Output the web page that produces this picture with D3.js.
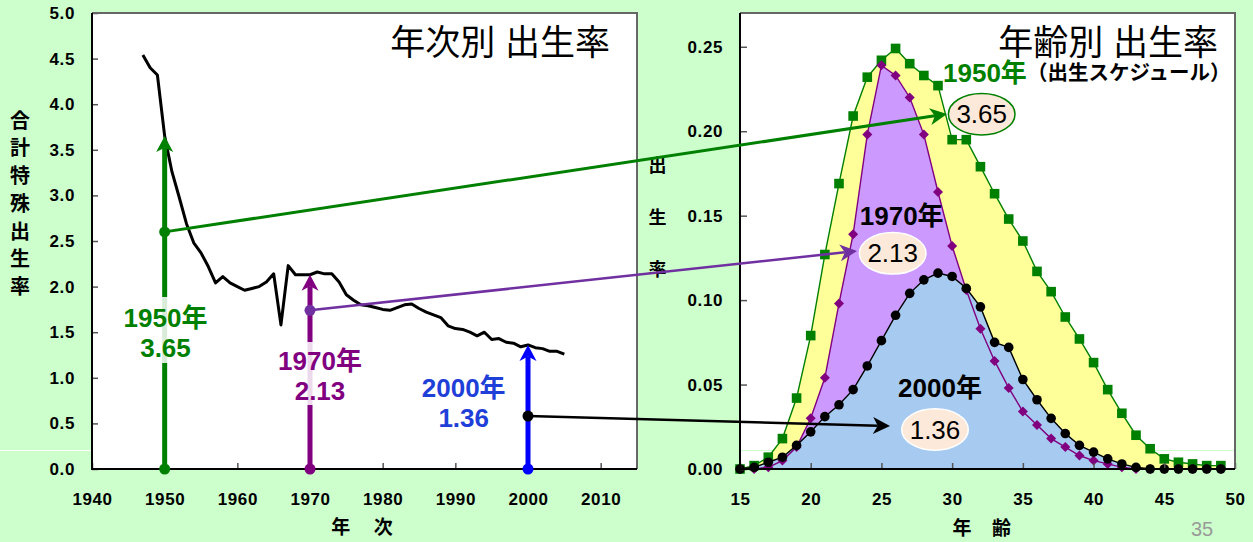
<!DOCTYPE html>
<html>
<head>
<meta charset="utf-8">
<script src="https://cdn.jsdelivr.net/npm/d3@7"></script>
<style>
  html, body { margin: 0; padding: 0; background: #ccffcc; }
  svg { display: block; }
</style>
</head>
<body>
<svg id="chart" width="1253" height="542"></svg>
<script>
// ---- Total fertility rate by year (Japan) ----
const years = [1947,1948,1949,1950,1951,1952,1953,1954,1955,1956,1957,1958,1959,
  1960,1961,1962,1963,1964,1965,1966,1967,1968,1969,1970,1971,1972,1973,1974,1975,
  1976,1977,1978,1979,1980,1981,1982,1983,1984,1985,1986,1987,1988,1989,1990,1991,
  1992,1993,1994,1995,1996,1997,1998,1999,2000,2001,2002,2003,2004,2005];
const tfr = [4.54,4.40,4.32,3.65,3.26,2.98,2.69,2.48,2.37,2.22,2.04,2.11,2.04,
  2.00,1.96,1.98,2.00,2.05,2.14,1.58,2.23,2.13,2.13,2.13,2.16,2.14,2.14,2.05,1.91,
  1.85,1.80,1.79,1.77,1.75,1.74,1.77,1.80,1.81,1.76,1.72,1.69,1.66,1.57,1.54,1.53,
  1.50,1.46,1.50,1.42,1.43,1.39,1.38,1.34,1.36,1.33,1.32,1.29,1.29,1.26];
const yearTicks = [1940,1950,1960,1970,1980,1990,2000,2010];
const tfrTicks = [0,0.5,1,1.5,2,2.5,3,3.5,4,4.5,5];

// highlighted years, their TFR and where each connector leaves the arrow
const highlightYears = [1950, 1970, 2000];
const highlightTfr = [3.65, 2.13, 1.36];
const connectorFrom = [2.6, 1.74, 0.58];

// ---- Age-specific fertility rates (schedules) ----
const ages = [15,16,17,18,19,20,21,22,23,24,25,26,27,28,29,30,31,32,33,34,35,36,37,38,39,40,41,42,43,44,45,46,47,48,49];
const rate1950 = [0.000,0.002,0.007,0.018,0.042,0.079,0.127,0.169,0.209,0.232,
  0.242,0.249,0.240,0.233,0.227,0.195,0.195,0.179,0.163,0.148,
  0.135,0.117,0.105,0.090,0.077,0.063,0.047,0.033,0.020,0.012,
  0.006,0.004,0.003,0.002,0.002];
const rate1970 = [0.000,0.000,0.001,0.005,0.013,0.030,0.054,0.098,0.139,0.198,
  0.239,0.233,0.220,0.198,0.164,0.132,0.106,0.083,0.064,0.048,
  0.034,0.026,0.018,0.013,0.008,0.005,0.003,0.001,0.000,0.000,
  0.000,0.000,0.000,0.000,0.000];
const rate2000 = [0.000,0.001,0.004,0.007,0.014,0.022,0.031,0.038,0.047,0.061,
  0.076,0.091,0.104,0.112,0.116,0.114,0.107,0.096,0.075,0.072,
  0.053,0.041,0.030,0.021,0.014,0.010,0.006,0.003,0.001,0.000,
  0.000,0.000,0.000,0.000,0.000];
const ageTicks = [15,20,25,30,35,40,45,50];
const rateTicks = [0,0.05,0.10,0.15,0.20,0.25];

// ---- styling ----
const LAT = "'Liberation Sans', Arial, 'Noto Sans CJK JP', sans-serif";
const JP = "'Noto Sans CJK JP', 'Liberation Sans', sans-serif";
const GREEN = "#008000", PURPLE = "#800080", LPURPLE = "#7030a0", BLUE = "#0000ff";
const LABEL_BLUE = "#1f40d8";
const PEACH = "#fde9d9";

const svg = d3.select("#chart");
svg.append("rect").attr("width", 1253).attr("height", 542).attr("fill", "#ccffcc");
svg.append("line").attr("x1", 0).attr("x2", 92).attr("y1", 450.5).attr("y2", 450.5)
  .attr("stroke", "#ffffff").attr("stroke-width", 1);

function styleAxis(g) {
  g.select(".domain").remove();
  g.attr("font-family", LAT).attr("font-size", 17).attr("font-weight", "bold");
  g.selectAll(".tick line").attr("stroke", "#555").attr("stroke-width", 1.5);
  g.selectAll(".tick text").attr("fill", "#000").attr("letter-spacing", "0.6px");
}

function frame(g, b) {
  g.append("path").attr("d", `M${b.x0},${b.y0}H${b.x1}V${b.y1}`)
    .attr("fill", "none").attr("stroke", "#666").attr("stroke-width", 2);
  g.append("path").attr("d", `M${b.x0},${b.y0}V${b.y1}H${b.x1}`)
    .attr("fill", "none").attr("stroke", "#000").attr("stroke-width", 2);
}

// arrow with a notched (stealth) head ending at (x2, y2)
function arrow(g, x1, y1, x2, y2, color, width, len, half) {
  const a = Math.atan2(y2 - y1, x2 - x1);
  const ux = Math.cos(a), uy = Math.sin(a);
  const nx = -uy, ny = ux;
  const bx = x2 - ux * len, by = y2 - uy * len;
  const kx = x2 - ux * len * 0.72, ky = y2 - uy * len * 0.72;
  g.append("line").attr("x1", x1).attr("y1", y1).attr("x2", kx).attr("y2", ky)
    .attr("stroke", color).attr("stroke-width", width);
  g.append("path")
    .attr("d", `M${x2},${y2}L${bx + nx * half},${by + ny * half}L${kx},${ky}L${bx - nx * half},${by - ny * half}Z`)
    .attr("fill", color);
}

// ================= Left panel: TFR by year =================
const L = { x0: 92, x1: 637, y0: 13, y1: 469 };
const xL = d3.scaleLinear().domain([1940, 2015]).range([L.x0, L.x1]);
const yL = d3.scaleLinear().domain([0, 5]).range([L.y1, L.y0]);
const gL = svg.append("g");
gL.append("rect").attr("x", L.x0).attr("y", L.y0)
  .attr("width", L.x1 - L.x0).attr("height", L.y1 - L.y0).attr("fill", "#fff");

gL.append("g").attr("transform", `translate(0,${L.y1})`)
  .call(d3.axisBottom(xL).tickValues(yearTicks).tickFormat(d3.format("d")).tickSize(-6).tickPadding(24))
  .call(styleAxis);
gL.append("g").attr("transform", `translate(${L.x0},0)`)
  .call(d3.axisLeft(yL).tickValues(tfrTicks).tickFormat(d3.format(".1f")).tickSize(-6).tickPadding(17))
  .call(styleAxis);

const tfrSeries = years.map((y, i) => ({ year: y, v: tfr[i] }));
gL.append("path").datum(tfrSeries)
  .attr("d", d3.line().x(d => xL(d.year)).y(d => yL(d.v)))
  .attr("fill", "none").attr("stroke", "#000").attr("stroke-width", 3)
  .attr("stroke-linejoin", "round");

frame(gL, L);

// title
svg.append("text").attr("x", 610).attr("y", 55).attr("text-anchor", "end")
  .attr("font-family", LAT).attr("font-size", 35).attr("fill", "#000")
  .text("年次別 出生率");

// axis titles
"合計特殊出生率".split("").forEach((c, i) => {
  svg.append("text").attr("x", 20).attr("y", 119 + i * 27.75)
    .attr("text-anchor", "middle").attr("dominant-baseline", "central")
    .attr("font-family", JP).attr("font-weight", "bold").attr("font-size", 20)
    .text(c);
});
[["年", 340.7], ["次", 383.3]].forEach(([c, x]) => {
  svg.append("text").attr("x", x).attr("y", 534).attr("text-anchor", "middle")
    .attr("font-family", JP).attr("font-weight", "bold").attr("font-size", 19).text(c);
});

// ================= Right panel: age-specific rates =================
const R = { x0: 740, x1: 1235, y0: 13, y1: 469 };
const xR = d3.scaleLinear().domain([15, 50]).range([R.x0, R.x1]);
const yR = d3.scaleLinear().domain([0, 0.27]).range([R.y1, R.y0]);
const gR = svg.append("g");
gR.append("rect").attr("x", R.x0).attr("y", R.y0)
  .attr("width", R.x1 - R.x0).attr("height", R.y1 - R.y0).attr("fill", "#fff");
gR.append("line").attr("x1", R.x0).attr("x2", R.x1).attr("y1", 450.5).attr("y2", 450.5)
  .attr("stroke", "#ccffcc").attr("stroke-width", 1.2);

const schedules = [
  { key: "1950", values: rate1950, fill: "#ffff99", stroke: GREEN, marker: "square" },
  { key: "1970", values: rate1970, fill: "#cc99ff", stroke: PURPLE, marker: "diamond" },
  { key: "2000", values: rate2000, fill: "#a6caf0", stroke: "#000", marker: "circle" }
];
const pts = s => ages.map((a, i) => ({ age: a, r: s.values[i] }));

const area = d3.area().x(d => xR(d.age)).y0(yR(0)).y1(d => yR(d.r));
const line = d3.line().x(d => xR(d.age)).y(d => yR(d.r));

schedules.forEach(s => {
  gR.append("path").datum(pts(s)).attr("d", area).attr("fill", s.fill);
});
schedules.forEach(s => {
  gR.append("path").datum(pts(s)).attr("d", line)
    .attr("fill", "none").attr("stroke", s.stroke).attr("stroke-width", 1.4);
  const m = gR.append("g").attr("fill", s.stroke);
  pts(s).forEach(d => {
    const cx = xR(d.age), cy = yR(d.r);
    if (s.marker === "square") {
      m.append("rect").attr("x", cx - 4.8).attr("y", cy - 4.8).attr("width", 9.6).attr("height", 9.6);
    } else if (s.marker === "diamond") {
      m.append("path").attr("d", `M${cx},${cy - 5}L${cx + 5},${cy}L${cx},${cy + 5}L${cx - 5},${cy}Z`);
    } else {
      m.append("circle").attr("cx", cx).attr("cy", cy).attr("r", 4.8);
    }
  });
});

gR.append("g").attr("transform", `translate(0,${R.y1})`)
  .call(d3.axisBottom(xR).tickValues(ageTicks).tickFormat(d3.format("d")).tickSize(-6).tickPadding(24))
  .call(styleAxis);
gR.append("g").attr("transform", `translate(${R.x0},0)`)
  .call(d3.axisLeft(yR).tickValues(rateTicks).tickFormat(d3.format(".2f")).tickSize(-7).tickPadding(17))
  .call(styleAxis);

frame(gR, R);

// title and subtitle
svg.append("text").attr("x", 1218).attr("y", 55).attr("text-anchor", "end")
  .attr("font-family", LAT).attr("font-size", 35).attr("fill", "#000")
  .text("年齢別 出生率");
svg.append("text").attr("x", 943).attr("y", 82)
  .attr("font-family", LAT).attr("font-weight", "bold").attr("font-size", 26).attr("fill", GREEN)
  .text("1950年");
svg.append("text").attr("x", 1027).attr("y", 80)
  .attr("font-family", LAT).attr("font-weight", "bold").attr("font-size", 20.5).attr("fill", "#000")
  .text("（出生スケジュール）");

// axis titles
[["出", 164], ["生", 216], ["率", 268]].forEach(([c, y]) => {
  svg.append("text").attr("x", 657.5).attr("y", y)
    .attr("text-anchor", "middle").attr("dominant-baseline", "central")
    .attr("font-family", JP).attr("font-weight", "bold").attr("font-size", 18).text(c);
});
[["年", 962], ["齢", 1001.5]].forEach(([c, x]) => {
  svg.append("text").attr("x", x).attr("y", 535).attr("text-anchor", "middle")
    .attr("font-family", JP).attr("font-weight", "bold").attr("font-size", 19).text(c);
});

// in-panel year labels
svg.append("text").attr("x", 901.7).attr("y", 225).attr("text-anchor", "middle")
  .attr("font-family", LAT).attr("font-weight", "bold").attr("font-size", 26).attr("fill", "#000")
  .text("1970年");
svg.append("text").attr("x", 940).attr("y", 397).attr("text-anchor", "middle")
  .attr("font-family", LAT).attr("font-weight", "bold").attr("font-size", 26).attr("fill", "#000")
  .text("2000年");

// ================= Highlights and connectors =================
const hl = [
  { color: GREEN, link: GREEN, linkW: 3, labelColor: GREEN, labelX: 165.5, labelY: 327,
    box: [297, 363], tip: [947, 114], ell: [981.7, 114.2], ellStroke: GREEN },
  { color: PURPLE, link: LPURPLE, linkW: 2.5, labelColor: PURPLE, labelX: 320, labelY: 370,
    box: [342, 405], tip: [857, 251], ell: [892.7, 253.3], ellStroke: "#ffffff" },
  { color: BLUE, link: "#000", linkW: 2.5, labelColor: LABEL_BLUE, labelX: 463.7, labelY: 397,
    box: null, tip: [890, 426], ell: [935, 429.5], ellStroke: "#ffffff" }
];

const gA = svg.append("g");
highlightYears.forEach((yr, i) => {
  const h = hl[i];
  const x = xL(yr);
  // vertical arrow up to the year's TFR
  arrow(gA, x, yL(0), x, yL(highlightTfr[i]), h.color, 5, 16, 8.5);
  gA.append("circle").attr("cx", x).attr("cy", yL(0)).attr("r", 5.5).attr("fill", h.color);

  // translucent label box over the arrow
  if (h.box) {
    gA.append("rect").attr("x", x - 12).attr("y", h.box[0]).attr("width", 24)
      .attr("height", h.box[1] - h.box[0]).attr("fill", "#fff").attr("opacity", 0.85);
  }
  const t = gA.append("text").attr("text-anchor", "middle")
    .attr("font-family", LAT).attr("font-weight", "bold").attr("font-size", 26)
    .attr("fill", h.labelColor);
  t.append("tspan").attr("x", h.labelX).attr("y", h.labelY).text(`${yr}年`);
  t.append("tspan").attr("x", h.labelX).attr("y", h.labelY + 30).text(d3.format(".2f")(highlightTfr[i]));
});

highlightYears.forEach((yr, i) => {
  const h = hl[i];
  const x = xL(yr), y = yL(connectorFrom[i]);
  arrow(gA, x, y, h.tip[0], h.tip[1], h.link, h.linkW, 17, 8.5);
  gA.append("circle").attr("cx", x).attr("cy", y).attr("r", 5.5).attr("fill", h.link);

  gA.append("ellipse").attr("cx", h.ell[0]).attr("cy", h.ell[1]).attr("rx", 33.3).attr("ry", 20.8)
    .attr("fill", PEACH).attr("stroke", h.ellStroke).attr("stroke-width", 1.5);
  gA.append("text").attr("x", h.ell[0]).attr("y", h.ell[1] + 9).attr("text-anchor", "middle")
    .attr("font-family", LAT).attr("font-size", 26).attr("fill", "#000")
    .text(d3.format(".2f")(highlightTfr[i]));
});

// page number
svg.append("text").attr("x", 1202).attr("y", 536).attr("text-anchor", "middle")
  .attr("font-family", LAT).attr("font-size", 20).attr("fill", "#999").text("35");
</script>
</body>
</html>
